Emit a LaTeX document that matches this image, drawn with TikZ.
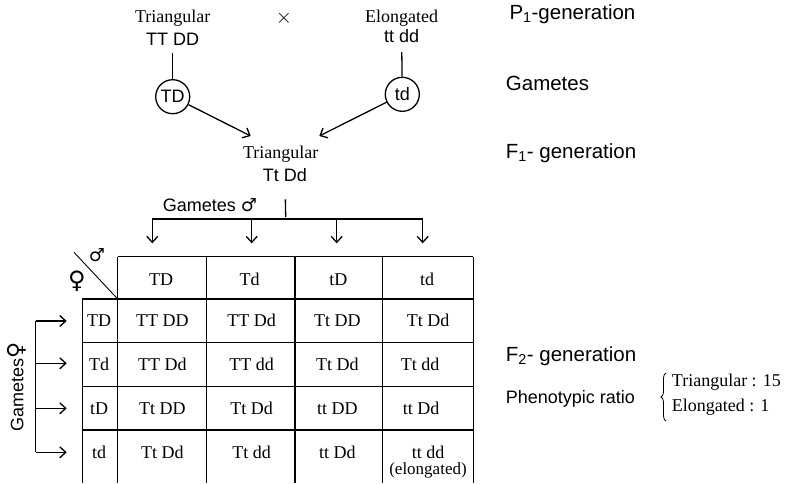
\documentclass[tikz,border=0pt]{standalone}
\usepackage{fontspec}
\setmainfont{Liberation Serif}
\setsansfont{Liberation Sans}
\newfontfamily\symfont{DejaVu Sans}
\usetikzlibrary{arrows.meta, decorations.pathreplacing}
\newcommand{\malesign}{{\symfont\char"2642}}
\newcommand{\femalesign}{{\symfont\char"2640}}
\tikzset{
  pheno/.style={anchor=base, inner sep=1pt, font=\rmfamily\fontsize{18}{20}\selectfont},
  geno/.style={anchor=base, inner sep=1pt, font=\sffamily\fontsize{18}{20}\selectfont},
  stage/.style={anchor=base west, inner sep=0pt, font=\sffamily\fontsize{20.5}{22}\selectfont},
  gamete/.style={draw, circle, line width=1.3pt, minimum size=34pt, inner sep=0pt, font=\sffamily\fontsize{18}{20}\selectfont},
  cell/.style={anchor=base, inner sep=0pt, font=\rmfamily\fontsize{18}{20}\selectfont},
  link/.style={line width=1.3pt},
  arr/.style={line width=1.3pt, -{Straight Barb[length=6pt, width=11pt]}},
}

\begin{document}
\begin{tikzpicture}[x=1pt, y=-1pt]
  \useasboundingbox (0,0) rectangle (790,483);

  % parents and gametes
  \node[pheno] (triP) at (172.7,22.7) {Triangular};
  \node[geno]  (TTDD) at (172.7,45) {TT DD};
  \node[pheno] (eloP) at (401.7,22.7) {Elongated};
  \node[geno]  (ttdd) at (401.7,42.7) {tt dd};
  \node[font=\sffamily\fontsize{22}{22}\selectfont] (cross) at (284,18.3) {$\times$};

  \node[gamete] (gTD) at (172.7,96.7) {TD};
  \node[gamete] (gtd) at (402.3,94.3) {td};
  \draw[link, shorten <=7pt] (TTDD.south) -- (gTD);
  \draw[link, shorten <=8pt] (ttdd.south) -- (gtd);

  % F1
  \node[pheno] (triF) at (280.7,158.3) {Triangular};
  \node[geno]  (TtDd) at (285,181) {Tt Dd};
  \coordinate (inL) at (250.7,136);
  \coordinate (inR) at (319.3,136);
  \draw[arr] (gTD) -- (inL);
  \draw[arr] (gtd) -- (inR);

  % stages on the right
  \node[stage] (sP1) at (509.3,19.3) {P\textsubscript{1}-generation};
  \node[stage] (sGam) at (505.7,90.5) {Gametes};
  \node[stage] (sF1) at (505.7,158.3) {F\textsubscript{1}- generation};
  \node[stage] (sF2) at (505.7,361) {F\textsubscript{2}- generation};
  \node[stage, font=\sffamily\fontsize{18}{20}\selectfont] (sRatio) at (505.7,403.3) {Phenotypic ratio};
  \draw[line width=0.8pt, decorate, decoration={brace, amplitude=5pt}] (666,421) -- (666,373);
  \node[cell, anchor=base west] (rTri) at (671.7,386.7) {Triangular : 15};
  \node[cell, anchor=base west] (rElo) at (671.7,411.7) {Elongated : 1};

  % male gametes
  \node[geno, anchor=base west] (gamM) at (161.7,211) {Gametes \malesign};
  \coordinate (tickM) at (285.7,217);
  \draw[link, shorten <=17pt] (TtDd.south) -- (tickM);
  \draw[link] (152.3,243.3) -- (152.3,219) -- (422.7,219) -- (422.7,243.3);
  \foreach \x in {152.3, 251.7, 336.7, 422.7}
    \draw[arr] (\x,219) -- (\x,243.3);

  % female gametes
  \node[geno, anchor=base west, rotate=90] (gamF) at (23.3,433) {Gametes{\fontsize{22}{22}\selectfont\femalesign}};
  \draw[link] (35.7,321) -- (35.7,452.3);
  \foreach \y in {321, 363.3, 408.3, 452.3}
    \draw[arr] (35.7,\y) -- (66.7,\y);

  % checkerboard
  \draw[link] (117.7,256.7) -- (473.3,256.7);
  \foreach \y in {299, 342.7, 386.7, 430}
    \draw[link] (82.3,\y) -- (473.3,\y);
  \draw[link] (82.3,299) -- (82.3,483);
  \foreach \x in {117.7, 206.7, 295, 382.3, 473.3}
    \draw[link] (\x,256.7) -- (\x,483);
  \draw[line width=0.9pt] (74,252.3) -- (117.7,299);
  \node[font=\fontsize{18}{18}\selectfont, inner sep=0pt] (cornerM) at (97,255) {\malesign};
  \node[font=\fontsize{24}{24}\selectfont, inner sep=0pt] (cornerF) at (77,281) {\femalesign};

  \foreach \g [count=\i] in {TD, Td, tD, td}
    \node[cell] (head\i) at ({72.3+88.7*\i},285) {\g};
  \foreach \g [count=\j] in {TD, Td, tD, td}
    \node[cell] (side\j) at (99,{282.3+44*\j}) {\g};

  \foreach \a/\b/\c/\d/\dx [count=\j] in {
      TT DD/TT Dd/Tt DD/Tt Dd/428,
      TT Dd/TT dd/Tt Dd/Tt dd/420,
      Tt DD/Tt Dd/tt DD/tt Dd/421,
      Tt Dd/Tt dd/tt Dd/tt dd/428} {
    \node[cell] (c\j a) at (162.3,{282+44*\j}) {\a};
    \node[cell] (c\j b) at (251.7,{282+44*\j}) {\b};
    \node[cell] (c\j c) at (337.3,{282+44*\j}) {\c};
    \node[cell] (c\j d) at (\dx,{282+44*\j}) {\d};
  }
  \node[cell, font=\rmfamily\fontsize{17}{17}\selectfont] (elo) at (428,474) {(elongated)};
\end{tikzpicture}
\end{document}
